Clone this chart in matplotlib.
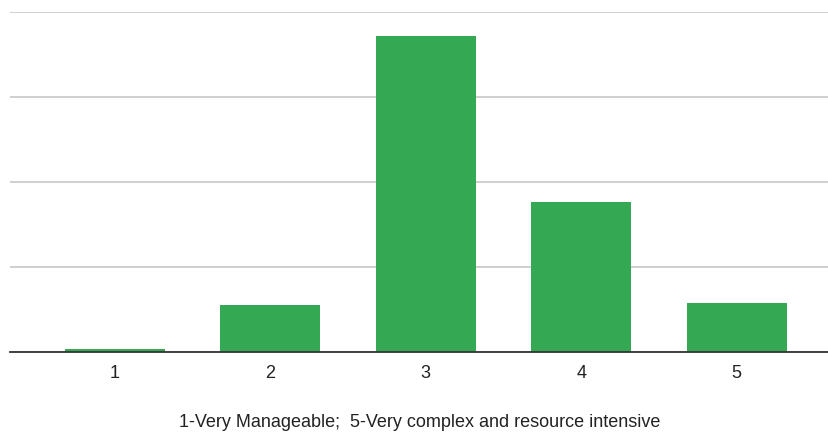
import matplotlib
matplotlib.use("Agg")
import matplotlib.pyplot as plt

# rating scale responses
categories = ["1", "2", "3", "4", "5"]
counts = [2, 28, 186, 88, 29]
grid_values = [0, 50, 100, 150, 200]

GREEN = "#34a853"
GRID = "#cccccc"
AXIS = "#333333"

plt.rcParams["font.family"] = ["Liberation Sans", "DejaVu Sans"]

fig = plt.figure(figsize=(8.29, 4.34), dpi=100)
ax = fig.add_axes([10 / 829, 81.7 / 434, 819 / 829, 340.6 / 434])

x = list(range(len(categories)))
ax.bar(x, counts, width=0.643, color=GREEN, zorder=3)

ax.set_xlim(-0.676, 4.595)
ax.set_ylim(0, 200)
ax.set_yticks(grid_values)
ax.yaxis.grid(True, color=GRID, lw=1.3, zorder=0)
ax.tick_params(axis="y", left=False, labelleft=False)
ax.set_xticks(x)
ax.set_xticklabels(categories, fontsize=13, color="#222222")
ax.tick_params(axis="x", length=0, pad=9)

for side in ("top", "right", "left"):
    ax.spines[side].set_visible(False)
ax.spines["bottom"].set_color(AXIS)
ax.spines["bottom"].set_linewidth(1.3)
ax.spines["bottom"].set_zorder(4)

ax.set_xlabel("1-Very Manageable;  5-Very complex and resource intensive",
              fontsize=13, color="#222222", labelpad=23)

fig.savefig("out.png", dpi=100)
